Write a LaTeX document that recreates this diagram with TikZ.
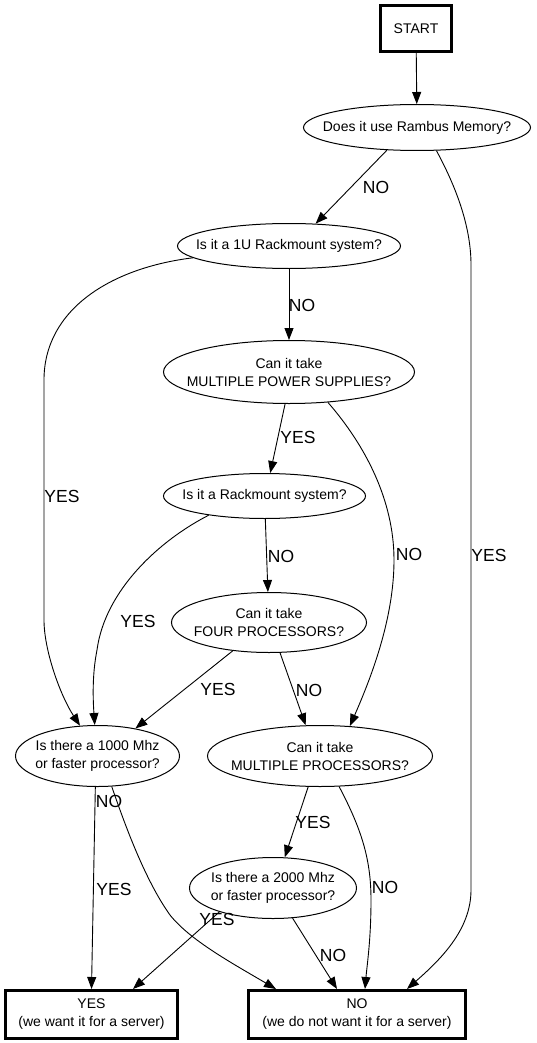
\documentclass[tikz,border=0pt]{standalone}
\usepackage{fontspec}
\setmainfont{Liberation Sans}
\usetikzlibrary{shapes.geometric,arrows.meta}
\begin{document}
\begin{tikzpicture}[x=1pt,y=-1pt,
  ell/.style={draw,ellipse,inner sep=0pt,line width=1pt},
  ntext/.style={font=\fontsize{14}{18}\selectfont,align=center,inner sep=0pt},
  box/.style={draw,rectangle,line width=3pt,inner sep=0pt,align=center,font=\fontsize{14}{18}\selectfont},
  edge/.style={line width=0.9pt,-{Triangle[length=12pt,width=9pt]}},
  elab/.style={font=\fontsize{17.5}{20}\selectfont,inner sep=0pt}]
\useasboundingbox (0,0) rectangle (537,1043);

\node[box,minimum width=71pt,minimum height=46pt] (start) at (416,28.5) {START};
\node[ell,minimum width=227pt,minimum height=46pt,label={[ntext]center:Does it use Rambus Memory?}] (rambus) at (417,127.5) {};
\node[ell,minimum width=223pt,minimum height=45pt,label={[ntext]center:Is it a 1U Rackmount system?}] (uone) at (289,246) {};
\node[ell,minimum width=251pt,minimum height=63pt,label={[ntext]center:{Can it take\\MULTIPLE POWER SUPPLIES?}}] (mps) at (289,372) {};
\node[ell,minimum width=202pt,minimum height=45pt,label={[ntext]center:Is it a Rackmount system?}] (rack) at (264.5,496) {};
\node[ell,minimum width=195pt,minimum height=60pt,label={[ntext]center:{Can it take\\FOUR PROCESSORS?}}] (four) at (269,622.5) {};
\node[ell,minimum width=164pt,minimum height=61pt,label={[ntext]center:{Is there a 1000 Mhz\\or faster processor?}}] (mhzone) at (97.5,756) {};
\node[ell,minimum width=225pt,minimum height=61pt,label={[ntext]center:{Can it take\\MULTIPLE PROCESSORS?}}] (mp) at (320,756) {};
\node[ell,minimum width=167pt,minimum height=61pt,label={[ntext]center:{Is there a 2000 Mhz\\or faster processor?}}] (mhztwo) at (273,888) {};
\node[box,minimum width=172pt,minimum height=48pt] (yesbox) at (91.5,1014.5) {YES\\(we want it for a server)};
\node[box,minimum width=217pt,minimum height=48pt] (nobox) at (357,1014.5) {NO\\(we do not want it for a server)};

\draw[edge] (start) -- (rambus);
\draw[edge] (rambus.-143.4) -- (uone.40.4) node[elab] at (376,187) {NO};
\draw[edge] (rambus.-50) .. controls (455,185) and (471,225) .. (471,265) -- (471,890) .. controls (471,930) and (440,960) .. ([xshift=50pt]nobox.north) node[elab] at (489,555) {YES};
\draw[edge] (uone.187.3) .. controls (110,268) and (44,310) .. (44,380) -- (44,620) .. controls (44,650) and (60,695) .. (mhzone.120.7) node[elab] at (62,496) {YES};
\draw[edge] (uone) -- (mps) node[elab] at (302,305) {NO};
\draw[edge] (mps.-97) -- (rack.76.5) node[elab] at (298,437) {YES};
\draw[edge] (mps.-38.3) .. controls (365,445) and (394,500) .. (394,560) .. controls (394,620) and (370,680) .. (mp.45) node[elab] at (409,554) {NO};
\draw[edge] (rack) -- (four) node[elab] at (281,556) {NO};
\draw[edge] (rack.199.5) .. controls (160,540) and (105,590) .. (97,650) .. controls (92,675) and (93,700) .. (mhzone.95) node[elab] at (138,621) {YES};
\draw[edge] (four.218.5) -- (mhzone.36) node[elab] at (218,689) {YES};
\draw[edge] (four.-70.5) -- (mp.115) node[elab] at (309,690) {NO};
\draw[edge] (mhzone.-94) -- (yesbox.north) node[elab] at (114,889) {YES};
\draw[edge] (mhzone.-65.7) .. controls (125,825) and (145,880) .. (170,915) .. controls (190,940) and (230,962) .. ([xshift=-81pt]nobox.north) node[elab] at (109,801) {NO};
\draw[edge] (mp.-111) -- (mhztwo.69) node[elab] at (313,822) {YES};
\draw[edge] (mp.-58.5) .. controls (362,830) and (371,860) .. (371,900) .. controls (371,940) and (367,965) .. ([xshift=8pt]nobox.north) node[elab] at (385,887) {NO};
\draw[edge] (mhztwo.204.8) -- ([xshift=41.5pt]yesbox.north) node[elab] at (217,919) {YES};
\draw[edge] (mhztwo.-57) -- ([xshift=-20pt]nobox.north) node[elab] at (333,955) {NO};
\end{tikzpicture}
\end{document}
